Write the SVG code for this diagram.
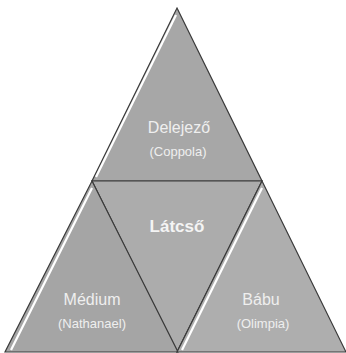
<svg xmlns="http://www.w3.org/2000/svg" width="346" height="353" viewBox="0 0 346 353">
<defs>
<filter id="soft" x="-10%" y="-10%" width="120%" height="120%"><feGaussianBlur stdDeviation="0.6"/></filter>
</defs>
<style>
.tri{stroke:#3a3a3a;stroke-width:1.2;stroke-linejoin:miter}
.hl{stroke:#ffffff;stroke-width:2.2;fill:none;filter:url(#soft)}
.sh{stroke:#555;stroke-width:1.6;fill:none;filter:url(#soft)}
.t1{font-family:"Liberation Sans",Arial,sans-serif;font-size:16px;fill:#efefef;text-anchor:middle}
.t2{font-family:"Liberation Sans",Arial,sans-serif;font-size:13px;fill:#efefef;text-anchor:middle}
.tb{font-family:"Liberation Sans",Arial,sans-serif;font-size:17px;font-weight:bold;fill:#f4f4f4;text-anchor:middle}
</style>
<rect width="346" height="353" fill="#ffffff"/>
<g id="delejezo">
<polygon class="tri" points="177,8 262,181 92,181" fill="#a7a7a7"/>
<line class="hl" x1="176" y1="15" x2="96" y2="177"/>
<line class="sh" x1="94" y1="179" x2="260" y2="179"/>
<text class="t1" x="179" y="133">Delejező</text>
<text class="t2" x="178" y="156">(Coppola)</text>
</g>
<g id="latcso">
<polygon class="tri" points="92,181 262,181 177,352" fill="#acacac"/>
<text class="tb" x="177" y="232">Látcső</text>
</g>
<g id="medium">
<polygon class="tri" points="92,181 178,352 5,352" fill="#a5a5a5"/>
<line class="hl" x1="92" y1="188" x2="11" y2="350"/>
<text class="t1" x="92" y="305">Médium</text>
<text class="t2" x="92" y="328">(Nathanael)</text>
</g>
<g id="babu">
<polygon class="tri" points="262,181 346,352 177,352" fill="#aeaeae"/>
<line class="hl" x1="262" y1="188" x2="182" y2="350"/>
<text class="t1" x="261" y="305">Bábu</text>
<text class="t2" x="263" y="328">(Olimpia)</text>
</g>
</svg>
